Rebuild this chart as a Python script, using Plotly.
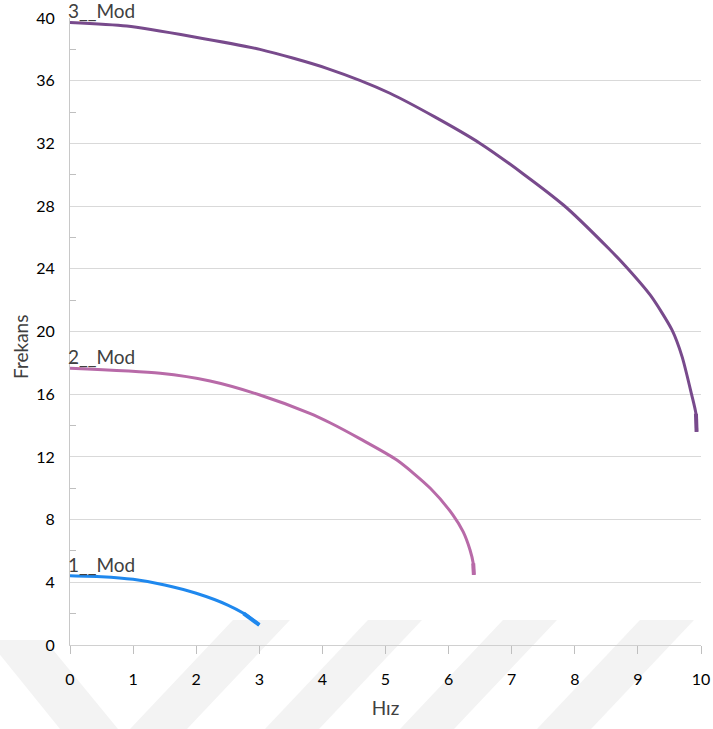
import plotly.graph_objects as go

# Frequency of each mode versus speed
mod1_hiz = [0.0, 0.5, 1.0, 1.5, 2.0, 2.5, 2.75, 3.0]
mod1_frekans = [4.42, 4.36, 4.19, 3.83, 3.30, 2.55, 2.02, 1.28]

mod2_hiz = [0.0, 1.43, 2.22, 3.01, 3.80, 4.12, 4.60, 5.18, 5.71, 6.07, 6.23, 6.34, 6.39, 6.40]
mod2_frekans = [17.65, 17.33, 16.84, 15.95, 14.78, 14.18, 13.15, 11.8, 10.0, 8.29, 7.23, 6.06, 5.21, 4.47]

mod3_hiz = [0.0, 0.9, 1.95, 3.01, 4.07, 5.07, 6.5, 7.82, 8.56, 8.82, 9.2, 9.54, 9.7, 9.85, 9.92, 9.93]
mod3_frekans = [39.72, 39.49, 38.81, 38.0, 36.79, 35.2, 32.0, 28.07, 25.2, 24.1, 22.3, 20.1, 18.4, 16.0, 14.75, 13.6]

seri_adlari = ["1__Mod", "2__Mod", "3__Mod"]
renkler = ["#1f88ee", "#b86aa8", "#784a8c"]

x_ticks = list(range(0, 11))
y_ticks = list(range(0, 41, 4))

FONT = "Lato, 'Open Sans', sans-serif"
TEXT = "#404040"

fig = go.Figure()
for hiz, frek, ad, renk in zip([mod1_hiz, mod2_hiz, mod3_hiz],
                                [mod1_frekans, mod2_frekans, mod3_frekans],
                                seri_adlari, renkler):
    fig.add_trace(go.Scatter(x=hiz, y=frek, mode="lines", name=ad,
                             line=dict(color=renk, width=3, shape="spline", smoothing=0.7),
                             hoverinfo="x+y"))
    # thicker short stub at the end of each curve
    fig.add_trace(go.Scatter(x=hiz[-2:], y=frek[-2:], mode="lines", showlegend=False,
                             line=dict(color=renk, width=4), hoverinfo="skip"))
    fig.add_annotation(x=hiz[0], y=frek[0], xref="x", yref="y", text=ad,
                       showarrow=False, xanchor="left", yanchor="bottom",
                       xshift=-4, yshift=-2,
                       font=dict(family=FONT, size=19, color=TEXT))

# faint diagonal bands of the background watermark (pixel positions -> paper)
L, R, T, B = 70, 701, 18, 645
def px(xp):
    return (xp - L) / (R - L)
def py(yp):
    return (B - yp) / (B - T)

bantlar = [
    [(-12, 640), (45, 640), (118, 729), (60, 729)],
    [(233, 620), (290, 620), (187, 729), (130, 729)],
    [(368, 620), (422, 620), (319, 729), (265, 729)],
    [(503, 620), (557, 620), (454, 729), (400, 729)],
    [(640, 620), (694, 620), (591, 729), (537, 729)],
]
for bant in bantlar:
    yol = "M " + " L ".join(f"{px(a):.4f},{py(b):.4f}" for a, b in bant) + " Z"
    fig.add_shape(type="path", path=yol, xref="paper", yref="paper",
                  fillcolor="#f3f3f3", line=dict(width=0), layer="below")

# y-axis title, set a little below the middle of the axis
fig.add_annotation(x=px(20), y=py(347), xref="paper", yref="paper", text="Frekans",
                   textangle=-90, showarrow=False, xanchor="center", yanchor="middle",
                   font=dict(family=FONT, size=19, color=TEXT))

fig.update_layout(
    width=713, height=729, autosize=False,
    margin=dict(l=L, r=713 - R, t=T, b=729 - B, pad=0),
    paper_bgcolor="white", plot_bgcolor="rgba(0,0,0,0)",
    showlegend=False,
    font=dict(family=FONT, color="#000000"),
)
fig.update_xaxes(
    range=[0, 10], tickvals=x_ticks, ticktext=[str(v) for v in x_ticks],
    automargin=False,
    showgrid=False, zeroline=False,
    showline=True, linecolor="#d0d0d0", linewidth=1,
    ticks="outside", ticklen=8, tickcolor="#bfbfbf", ticklabelstandoff=12,
    tickfont=dict(family=FONT, size=16, color="#000000"),
    title=dict(text="Hız", font=dict(family=FONT, size=19, color=TEXT), standoff=14),
)
fig.update_yaxes(
    range=[0, 40], tickvals=y_ticks, ticktext=[str(v) for v in y_ticks],
    automargin=False,
    showgrid=True, gridcolor="#d9d9d9", gridwidth=1, zeroline=False,
    showline=True, linecolor="#c8c8c8", linewidth=1,
    ticks="", ticklabelstandoff=11,
    minor=dict(tickvals=list(range(2, 40, 4)), ticks="inside", ticklen=6,
               tickcolor="#bfbfbf", showgrid=False),
    tickfont=dict(family=FONT, size=16, color="#000000"),
)

fig.write_html("out.html")
